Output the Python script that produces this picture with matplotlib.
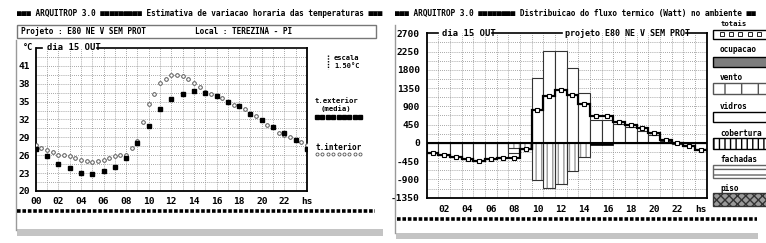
import matplotlib
matplotlib.use("Agg")
import matplotlib.pyplot as plt
from matplotlib.patches import Rectangle
from matplotlib.lines import Line2D
import numpy as np

W, H = 766, 243
MONO = "DejaVu Sans Mono"
FS = 5.6

plt.rcParams["font.family"] = MONO
plt.rcParams["font.weight"] = "bold"
plt.rcParams["font.size"] = FS

# ---- left chart : hourly temperatures (dia 15 OUT) ----
hours = list(range(0, 25))
t_ext = [27.0, 25.8, 24.6, 23.8, 23.1, 22.9, 23.3, 24.0, 25.6, 28.1, 30.9, 33.7, 35.4,
         36.3, 36.7, 36.5, 36.0, 35.0, 34.2, 33.0, 31.9, 30.8, 29.7, 28.5, 27.1]
half_hours = np.arange(0, 24.5, 0.5)
t_int = [27.8, 27.3, 26.9, 26.5, 26.1, 26.0, 25.8, 25.6, 25.2, 25.1, 24.9, 25.1, 25.2,
         25.6, 25.8, 26.0, 26.1, 27.2, 28.4, 31.6, 34.6, 36.3, 38.1, 38.8, 39.5, 39.5,
         39.3, 38.8, 38.2, 37.4, 36.6, 36.3, 36.0, 35.6, 35.0, 34.4, 34.2, 33.7, 33.0,
         32.6, 31.9, 31.1, 30.8, 29.7, 29.4, 29.0, 28.5, 28.3, 27.8]
temp_ticks = [20, 23, 26, 29, 32, 35, 38, 41]
hour_ticks = [0, 2, 4, 6, 8, 10, 12, 14, 16, 18, 20, 22, 24]
hour_labels = ["00", "02", "04", "06", "08", "10", "12", "14", "16", "18", "20", "22", "hs"]

# ---- right chart : heat flux (Watt) ----
flux_hours = list(range(1, 25))
totais = [-246, -303, -353, -393, -435, -393, -368, -377, -150, 800, 1153, 1292,
          1170, 949, 670, 670, 520, 440, 360, 245, 73, 0, -70, -165]
vidros = [-246, -303, -353, -393, -435, -393, -368, -245, 0, 1595, 2258, 2258,
          1849, 1227, 573, 573, 470, 390, 300, 190, 40, -20, -80, -160]
vento = [0, 0, 0, 0, 0, 0, 0, -135, -150, -908, -1105, -1010,
         -700, -355, 0, 0, 0, 0, 0, 0, 0, 0, 0, 0]
cobertura = [0, 0, 0, 0, 0, 0, 0, 0, 0, 0, 0, 0,
             0, 0, -40, -40, 0, 0, 0, 0, 0, 0, 0, 0]
flux_ticks = [-1350, -900, -450, 0, 450, 900, 1350, 1800, 2250, 2700]
flux_xticks = [2, 4, 6, 8, 10, 12, 14, 16, 18, 20, 22, 24]
flux_xlabels = ["02", "04", "06", "08", "10", "12", "14", "16", "18", "20", "22", "hs"]

fig = plt.figure(figsize=(W / 100, H / 100), dpi=100)
fig.patch.set_facecolor("white")


def txt(x, y, s, ha="left", size=FS, **kw):
    fig.text(x / W, 1 - y / H, s, ha=ha, va="center", fontsize=size,
             family=MONO, weight="bold", **kw)


def hline(x0, x1, y, **kw):
    kw.setdefault("color", "black")
    kw.setdefault("lw", 1)
    fig.add_artist(Line2D([x0 / W, x1 / W], [1 - y / H, 1 - y / H], **kw))


def vline(x, y0, y1, **kw):
    kw.setdefault("color", "black")
    kw.setdefault("lw", 1)
    fig.add_artist(Line2D([x / W, x / W], [1 - y0 / H, 1 - y1 / H], **kw))


def rect(x0, y0, x1, y1, **kw):
    fig.add_artist(Rectangle((x0 / W, 1 - y1 / H), (x1 - x0) / W, (y1 - y0) / H,
                             transform=fig.transFigure, **kw))


def axes_px(x0, y0, x1, y1):
    return fig.add_axes([x0 / W, 1 - y1 / H, (x1 - x0) / W, (y1 - y0) / H])


# panel shadows and borders
rect(17, 229, 383, 236, facecolor="#c4c4c4", edgecolor="none")
rect(396, 233, 758, 239, facecolor="#c4c4c4", edgecolor="none")
vline(16, 40, 230, color="#9a9a9a")
vline(395, 25, 233, color="#9a9a9a")

# ================= LEFT PANEL =================
txt(17, 13.5, "■■■ ARQUITROP 3.0 ■■■■■■■■■ Estimativa de variacao horaria das temperaturas ■■■")
rect(17, 25, 376, 38, facecolor="white", edgecolor="#777777", lw=1)
txt(21, 31.5, "Projeto : E80 NE V SEM PROT")
txt(195, 31.5, "Local : TEREZINA - PI")

axL = axes_px(35.7, 48, 307, 191)
axL.set_xlim(0, 24)
axL.set_ylim(20, 44)
for h in range(1, 24):
    axL.axvline(h, color="#8a8a8a", lw=0.6, ls=(0, (1, 1.5)), zorder=0)
for t in np.arange(21.5, 44, 1.5):
    axL.axhline(t, color="#8a8a8a", lw=0.6, ls=(0, (1, 1.5)), zorder=0)
axL.plot(half_hours, t_int, ls="none", marker="o", ms=2.6, mfc="white",
         mec="#555555", mew=0.7, zorder=3)
axL.plot(hours, t_ext, ls="none", marker="s", ms=3.4, color="black", zorder=4)
axL.set_yticks(temp_ticks)
axL.set_yticklabels([str(t) for t in temp_ticks])
axL.set_xticks(hour_ticks)
axL.set_xticklabels(hour_labels)
axL.tick_params(length=0, labelsize=FS + 1.2, pad=4)
axL.spines["top"].set_visible(False)
for s in ("left", "bottom", "right"):
    axL.spines[s].set_linewidth(1.3)

txt(23, 48, "°C", size=FS + 0.5)
hline(37, 42, 48, lw=1.2)
txt(47, 48, "dia 15 OUT", size=FS + 0.8)
hline(97, 307, 48, lw=1.2)

# left legend
vline(328, 55, 69, lw=1, ls=(0, (1, 1)))
txt(334, 57.5, "escala", size=5.0)
txt(334, 65.5, "1.50°C", size=5.0)
txt(315, 101, "t.exterior", size=5.2)
txt(321, 109, "(media)", size=5.2)
fig.add_artist(Line2D(np.linspace(317, 360, 9) / W, [1 - 117 / H] * 9, ls="none",
                      marker="s", ms=2.6, color="black"))
txt(316, 147, "t.interior")
fig.add_artist(Line2D(np.linspace(317, 360, 9) / W, [1 - 154 / H] * 9, ls="none",
                      marker="o", ms=2.2, mfc="white", mec="#555555", mew=0.6))
hline(17, 375, 210.7, lw=2.6, ls=(0, (1, 0.5)))

# ================= RIGHT PANEL =================
txt(395, 13.5, "■■■ ARQUITROP 3.0 ■■■■■■■■ Distribuicao do fluxo termico (Watt) no ambiente ■■")

axR = axes_px(426.7, 33.3, 706.6, 197.7)
axR.set_xlim(0.5, 24.5)
axR.set_ylim(-1350, 2700)
for h in np.arange(1.5, 24.5, 1):
    axR.axvline(h, color="#8a8a8a", lw=0.6, ls=(0, (1, 1.5)), zorder=0)
for v in np.arange(-1125, 2700, 225):
    axR.axhline(v, color="#8a8a8a", lw=0.6, ls=(0, (1, 1.5)), zorder=0)

axR.bar(flux_hours, vidros, width=1, facecolor="white", edgecolor="#333333", lw=0.8, zorder=2)
axR.bar(flux_hours, vento, width=1, facecolor="white", edgecolor="#9a9a9a", lw=0,
        hatch="|||", zorder=2)
axR.bar(flux_hours, vento, width=1, facecolor="none", edgecolor="#333333", lw=0.8, zorder=2)
axR.bar(flux_hours, cobertura, width=1, facecolor="black", edgecolor="black", lw=0.5, zorder=2)
axR.axhline(0, color="black", lw=1.5, zorder=3)

edges = np.append(np.array(flux_hours) - 0.5, flux_hours[-1] + 0.5)
axR.stairs(totais, edges, baseline=None, color="black", lw=1.6, zorder=4)
axR.plot(flux_hours, totais, ls="none", marker="s", ms=3, mfc="white", mec="black",
         mew=0.8, zorder=5)

axR.set_yticks(flux_ticks)
axR.set_yticklabels([str(v) for v in flux_ticks])
axR.set_xticks(flux_xticks)
axR.set_xticklabels(flux_xlabels)
axR.tick_params(length=0, labelsize=FS + 1.2, pad=5)
axR.spines["top"].set_visible(False)
for s in ("left", "bottom", "right"):
    axR.spines[s].set_linewidth(1.3)

hline(427, 438, 33.3, lw=1.2)
txt(442, 33.3, "dia 15 OUT", size=FS + 0.8)
hline(492, 562, 33.3, lw=1.2)
txt(565, 33.3, "projeto E80 NE V SEM PROT", size=FS + 0.4)
hline(686, 706.6, 33.3, lw=1.2)

# right legend (cut by the image edge)
txt(721, 23.5, "totais", size=5.2)
rect(713, 30, 772, 39, facecolor="white", edgecolor="black", lw=1)
fig.add_artist(Line2D(np.array([722, 731, 740, 750, 759]) / W, [1 - 34.5 / H] * 5,
                      ls="none", marker="s", ms=2.4, mfc="white", mec="black", mew=0.6))
txt(720, 50, "ocupacao")
rect(713, 57, 772, 67, facecolor="#7d7d7d", edgecolor="black", lw=1)
txt(720, 78, "vento")
rect(713, 83, 772, 94, facecolor="white", edgecolor="#555555", lw=1, hatch="|")
txt(720, 106, "vidros")
rect(713, 112, 772, 122, facecolor="white", edgecolor="black", lw=1)
txt(720, 133, "cobertura")
rect(713, 138, 772, 149, facecolor="white", edgecolor="black", lw=1, hatch="|||")
txt(720, 160, "fachadas")
rect(713, 165, 772, 178, facecolor="white", edgecolor="#666666", lw=1, hatch="---")
txt(720, 188, "piso")
rect(713, 193, 772, 206, facecolor="#9a9a9a", edgecolor="#333333", lw=1, hatch="xxxx")

hline(397, 757, 219, lw=2.6, ls=(0, (1, 0.5)))

fig.savefig("out.png", dpi=100, facecolor="white")
